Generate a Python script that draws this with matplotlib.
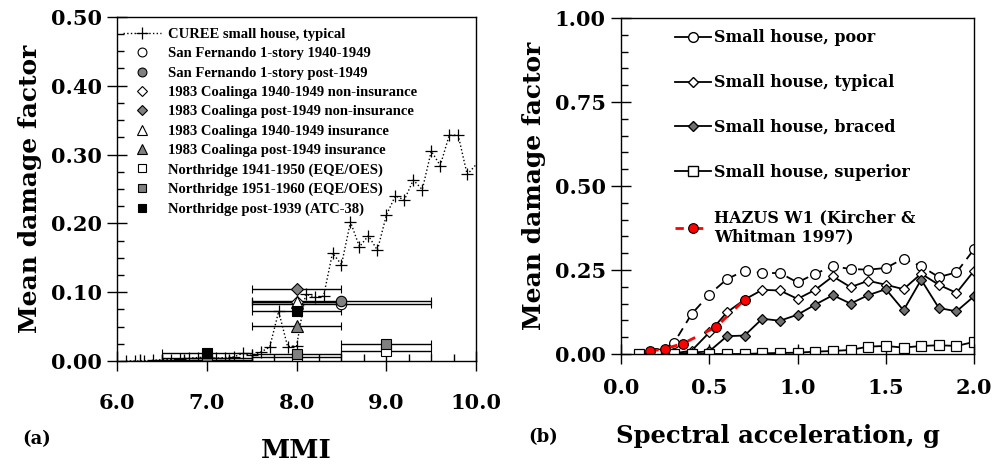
import numpy as np
import matplotlib
matplotlib.use("Agg")
import matplotlib.pyplot as plt
from matplotlib.lines import Line2D
from matplotlib.ticker import MultipleLocator, FormatStrFormatter

plt.rcParams["font.family"] = ["DejaVu Serif"]
plt.rcParams["font.weight"] = "bold"

GRAY = "#808080"

# --- (a) MMI panel data ---
curee_mmi = [6.1, 6.2, 6.3, 6.4, 6.5, 6.6, 6.7, 6.8, 6.9, 7.0, 7.1, 7.2, 7.3, 7.4,
             7.5, 7.6, 7.7, 7.8, 7.9, 8.0, 8.1, 8.2, 8.3, 8.4, 8.5, 8.6, 8.7, 8.8,
             8.9, 9.0, 9.1, 9.2, 9.3, 9.4, 9.5, 9.6, 9.7, 9.8, 9.9, 10.1]
curee_mdf = [0.0, 0.0, 0.0, 0.001, 0.002, 0.002, 0.003, 0.004, 0.005, 0.006, 0.004,
             0.005, 0.006, 0.011, 0.008, 0.013, 0.020, 0.072, 0.021, 0.022, 0.097,
             0.093, 0.094, 0.157, 0.140, 0.202, 0.166, 0.182, 0.161, 0.212, 0.240,
             0.234, 0.263, 0.249, 0.305, 0.284, 0.328, 0.328, 0.271, 0.300]

sf_old_x, sf_old_y = [8.5], [0.083]
sf_new_x, sf_new_y = [8.5], [0.087]
coal_ni_old_x, coal_ni_old_y = [8.0], [0.086]
coal_ni_new_x, coal_ni_new_y = [8.0], [0.104]
coal_in_old_x, coal_in_old_y = [8.0], [0.085]
coal_in_new_x, coal_in_new_y = [8.0], [0.051]
nr_4150_x, nr_4150_y = [7.0, 8.0, 9.0], [0.005, 0.006, 0.014]
nr_5160_x, nr_5160_y = [7.0, 8.0, 9.0], [0.001, 0.010, 0.025]
nr_atc_x, nr_atc_y = [7.0, 8.0], [0.011, 0.073]

# --- (b) spectral acceleration panel data ---
sa = [0.1, 0.2, 0.3, 0.4, 0.5, 0.6, 0.7, 0.8, 0.9, 1.0,
      1.1, 1.2, 1.3, 1.4, 1.5, 1.6, 1.7, 1.8, 1.9, 2.0]
poor = [0.0, 0.003, 0.033, 0.119, 0.177, 0.223, 0.248, 0.241, 0.241, 0.213,
        0.239, 0.261, 0.253, 0.251, 0.256, 0.284, 0.261, 0.229, 0.243, 0.312]
typical = [0.0, 0.0, 0.002, 0.010, 0.064, 0.124, 0.162, 0.191, 0.189, 0.164,
           0.191, 0.231, 0.199, 0.218, 0.206, 0.193, 0.239, 0.206, 0.182, 0.248]
braced = [0.0, 0.0, 0.0, 0.004, 0.008, 0.053, 0.055, 0.105, 0.099, 0.117,
          0.147, 0.175, 0.150, 0.175, 0.193, 0.130, 0.221, 0.137, 0.127, 0.172]
superior = [0.0, 0.0, 0.0, 0.0, 0.0, 0.0, 0.0, 0.002, 0.003, 0.004,
            0.007, 0.009, 0.012, 0.022, 0.024, 0.019, 0.024, 0.026, 0.024, 0.036]
hazus_sa = [0.166, 0.25, 0.35, 0.538, 0.70]
hazus_mdf = [0.008, 0.016, 0.031, 0.080, 0.162]

fig = plt.figure(figsize=(9.92, 4.65), dpi=100)
ax1 = fig.add_axes([0.118, 0.2237, 0.362, 0.740])
ax2 = fig.add_axes([0.626, 0.2387, 0.356, 0.7226])

# ---- panel (a) ----
curee_line, = ax1.plot(curee_mmi, curee_mdf, ls=":", lw=1, color="black", marker="+",
                       ms=9, mew=0.9)
handles = [curee_line]
labels = ["CUREE small house, typical"]

def ebar(x, y, half, marker, face, label, ms=7):
    ax1.errorbar(x, y, xerr=half, fmt=marker, mfc=face, mec="black", mew=0.8,
                 ms=ms, ecolor="black", elinewidth=1, capsize=3, capthick=1)
    # legend shows the marker only
    handles.append(Line2D([], [], ls="none", marker=marker, mfc=face, mec="black",
                          mew=0.8, ms=ms * 0.85))
    labels.append(label)

ebar(sf_old_x, sf_old_y, 1.0, "o", "white", "San Fernando 1-story 1940-1949", 7.5)
ebar(sf_new_x, sf_new_y, 1.0, "o", GRAY, "San Fernando 1-story post-1949", 7.5)
ebar(coal_ni_old_x, coal_ni_old_y, 0.5, "D", "white", "1983 Coalinga 1940-1949 non-insurance", 6)
ebar(coal_ni_new_x, coal_ni_new_y, 0.5, "D", GRAY, "1983 Coalinga post-1949 non-insurance", 6)
ebar(coal_in_old_x, coal_in_old_y, 0.5, "^", "white", "1983 Coalinga 1940-1949 insurance", 8)
ebar(coal_in_new_x, coal_in_new_y, 0.5, "^", GRAY, "1983 Coalinga post-1949 insurance", 8)
ebar(nr_4150_x, nr_4150_y, 0.5, "s", "white", "Northridge 1941-1950 (EQE/OES)", 7)
ebar(nr_5160_x, nr_5160_y, 0.5, "s", GRAY, "Northridge 1951-1960 (EQE/OES)", 7)
ebar(nr_atc_x, nr_atc_y, 0.5, "s", "black", "Northridge post-1939 (ATC-38)", 7)

ax1.set_xlim(6.0, 10.0)
ax1.set_ylim(0.0, 0.50)
ax1.xaxis.set_major_locator(MultipleLocator(1.0))
ax1.xaxis.set_minor_locator(MultipleLocator(0.25))
ax1.yaxis.set_major_locator(MultipleLocator(0.10))
ax1.yaxis.set_minor_locator(MultipleLocator(0.025))
ax1.xaxis.set_major_formatter(FormatStrFormatter("%.1f"))
ax1.yaxis.set_major_formatter(FormatStrFormatter("%.2f"))
ax1.set_xlabel("MMI", fontsize=19, fontweight="bold", labelpad=18)
ax1.set_ylabel("Mean damage factor", fontsize=18, fontweight="bold", labelpad=6)

ax1.legend(handles, labels, loc="upper left", frameon=False,
           prop={"family": "Liberation Serif", "weight": "bold", "size": 10.5},
           handlelength=2.6, labelspacing=0.42, borderaxespad=0.0, handletextpad=0.5,
           bbox_to_anchor=(0.0, 0.985))

# ---- panel (b) ----
ax2.plot(sa, poor, ls=(0, (5, 3.5)), lw=1.3, color="black", marker="o", ms=7,
         mfc="white", mec="black", mew=0.9)
ax2.plot(sa, typical, ls="-", lw=1.3, color="black", marker="D", ms=5.5,
         mfc="white", mec="black", mew=0.9)
ax2.plot(sa, braced, ls="-", lw=1.3, color="black", marker="D", ms=5.5,
         mfc="#707070", mec="black", mew=0.9)
ax2.plot(sa, superior, ls="-", lw=1.3, color="black", marker="s", ms=6.5,
         mfc="white", mec="black", mew=0.9)
ax2.plot(hazus_sa, hazus_mdf, ls=(0, (3, 4)), lw=2, color="red", marker="o", ms=7,
         mfc="red", mec="black", mew=0.8)

# legend: solid handles for the small-house curves, as in the original
leg2_handles = [
    Line2D([], [], lw=1.3, color="black", marker="o", ms=7, mfc="white", mec="black"),
    Line2D([], [], lw=1.3, color="black", marker="D", ms=5.5, mfc="white", mec="black"),
    Line2D([], [], lw=1.3, color="black", marker="D", ms=5.5, mfc="#707070", mec="black"),
    Line2D([], [], lw=1.3, color="black", marker="s", ms=6.5, mfc="white", mec="black"),
    Line2D([], [], lw=2, ls=(0, (3, 4)), color="red", marker="o", ms=7, mfc="red",
           mec="black", mew=0.8),
]
leg2_labels = ["Small house, poor", "Small house, typical", "Small house, braced",
               "Small house, superior", "HAZUS W1 (Kircher &\nWhitman 1997)"]

ax2.set_xlim(0.0, 2.0)
ax2.set_ylim(0.0, 1.0)
ax2.xaxis.set_major_locator(MultipleLocator(0.5))
ax2.yaxis.set_major_locator(MultipleLocator(0.25))
ax2.yaxis.set_minor_locator(MultipleLocator(0.05))
ax2.xaxis.set_major_formatter(FormatStrFormatter("%.1f"))
ax2.yaxis.set_major_formatter(FormatStrFormatter("%.2f"))
ax2.set_xlabel("Spectral acceleration, g", fontsize=17.5, fontweight="bold", labelpad=19)
ax2.xaxis.label.set_x(0.445)
ax2.set_ylabel("Mean damage factor", fontsize=18, fontweight="bold", labelpad=6)

ax2.legend(leg2_handles, leg2_labels, loc="upper left", frameon=False, fontsize=11.5,
           handlelength=2.3, labelspacing=1.75, handletextpad=0.2,
           bbox_to_anchor=(0.12, 1.0), borderaxespad=0.3)

for ax in (ax1, ax2):
    ax.tick_params(which="major", direction="inout", length=14, width=1,
                   labelsize=15, top=False, right=False, pad=4)
    ax.tick_params(which="minor", direction="in", length=5, width=1,
                   top=False, right=False)
    for s in ax.spines.values():
        s.set_linewidth(1)
    for lab in ax.get_xticklabels() + ax.get_yticklabels():
        lab.set_fontweight("bold")
ax1.tick_params(axis="x", which="major", pad=16)
ax2.tick_params(axis="x", which="major", pad=10)

fig.text(0.022, 0.045, "(a)", fontsize=13, fontweight="bold")
fig.text(0.533, 0.05, "(b)", fontsize=13, fontweight="bold")

fig.savefig("out.png", dpi=100)
